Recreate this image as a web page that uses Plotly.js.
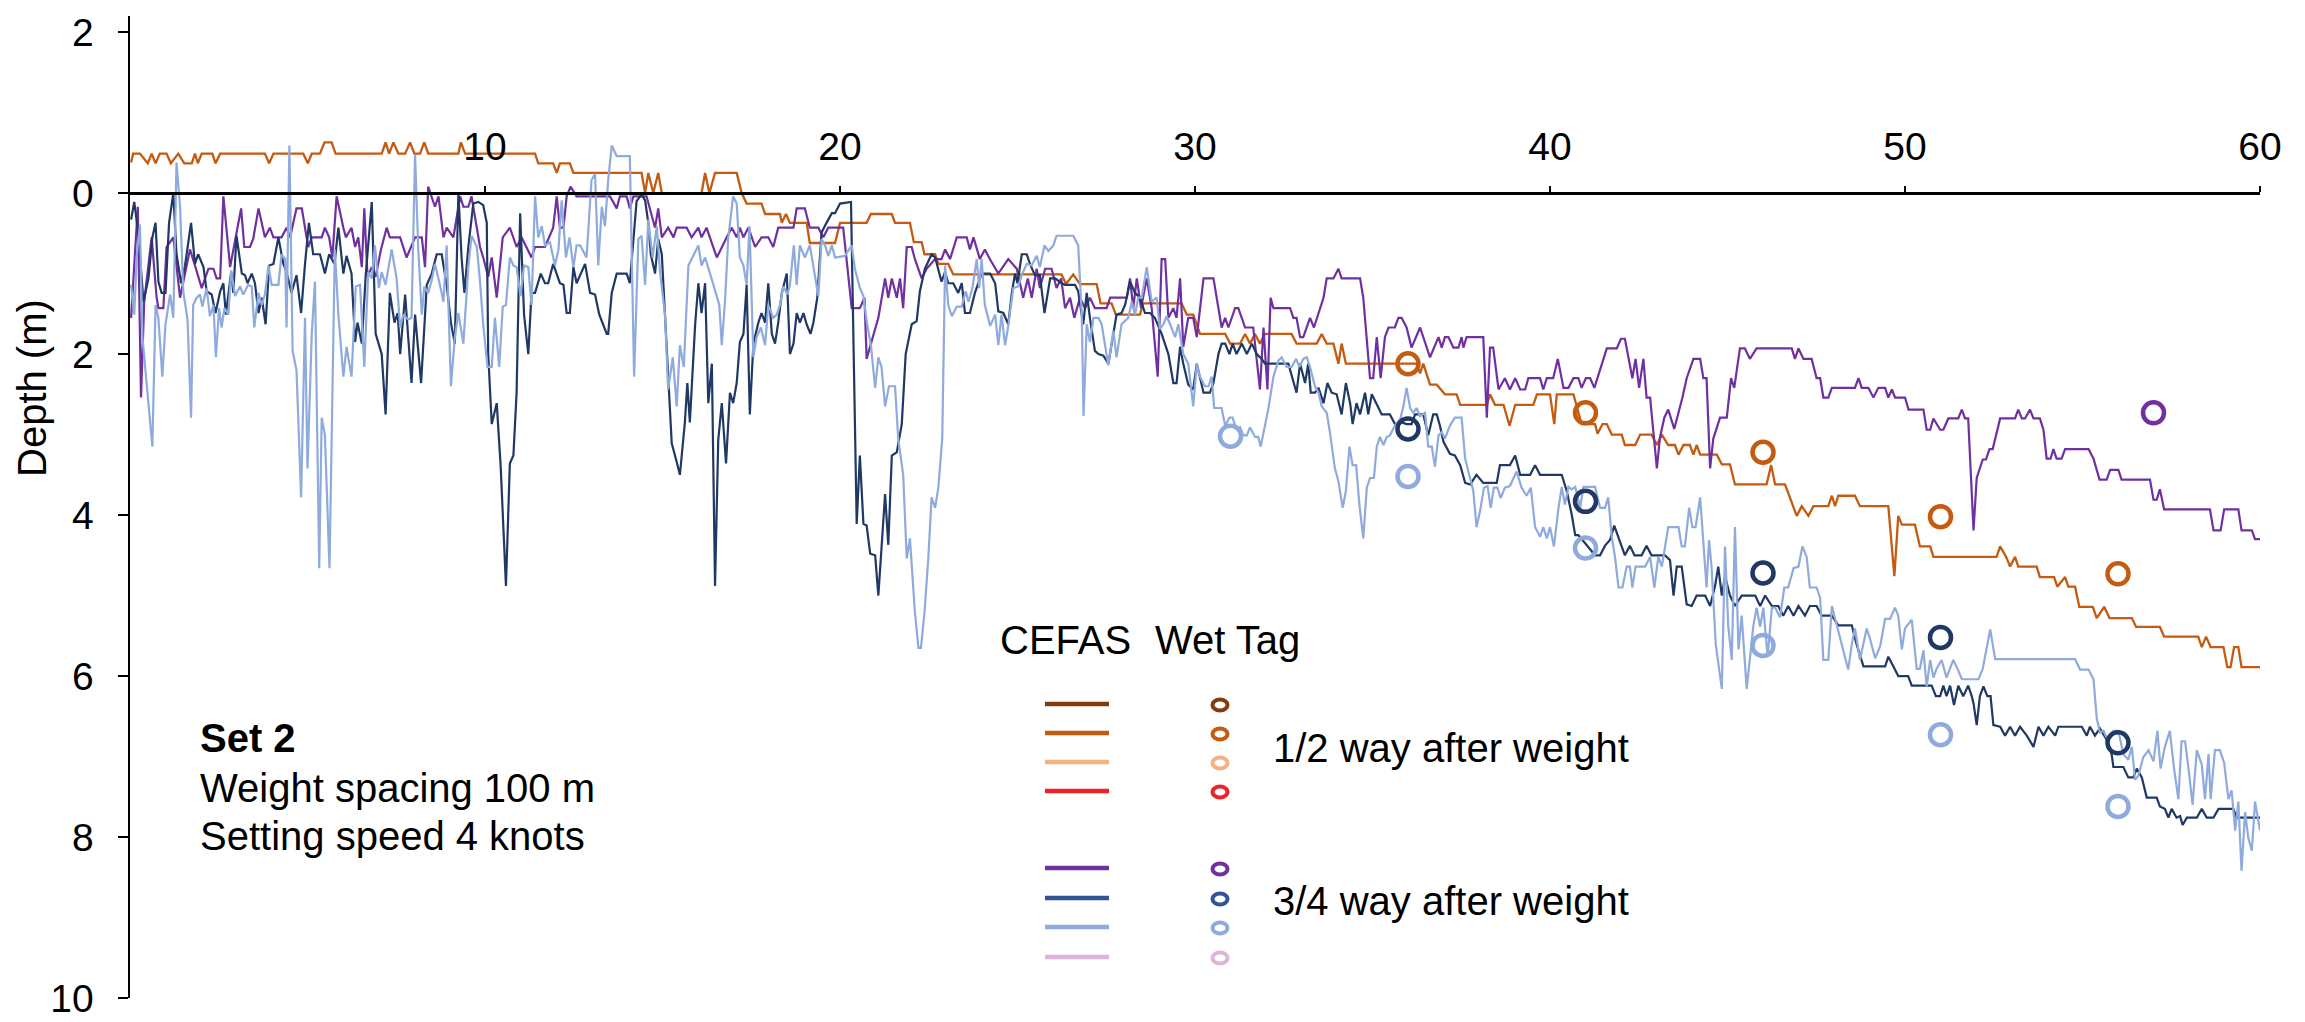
<!DOCTYPE html>
<html>
<head>
<meta charset="utf-8">
<script src="https://cdn.plot.ly/plotly-3.0.1.min.js"></script>
<style>html,body{margin:0;padding:0;background:#fff;}#chart{width:2305px;height:1022px;}</style>
</head>
<body>
<div id="chart"></div>
<script>
// ---------------- DATA (depth in m, x = distance/time along line) ----------------
const xTickVals = [10, 20, 30, 40, 50, 60];
const yTickVals = [-2, 0, 2, 4, 6, 8, 10];
const yTickText = ['2', '0', '2', '4', '6', '8', '10'];

// CEFAS 1/2 way after weight (orange)
const orangeX = [0.03,0.09,0.28,0.50,0.61,0.72,0.84,1.03,1.15,1.36,1.53,1.74,1.83,1.91,2.02,2.32,2.41,2.54,3.80,3.92,4.04,4.88,5.01,5.12,5.35,5.48,5.68,5.79,7.09,7.20,7.30,7.42,7.56,7.75,7.89,8.01,8.17,8.29,8.40,9.25,9.32,9.44,
11.41,11.50,11.92,12.02,12.11,12.39,12.49,14.41,14.51,14.60,14.74,14.88,14.98,16.10,16.20,16.32,16.48,17.09,17.23,17.37,17.79,17.89,18.31,18.36,18.48,18.59,19.06,19.15,19.86,
20.00,20.75,20.87,21.46,21.55,21.97,22.08,22.30,22.38,22.68,22.77,23.05,23.19,26.24,26.37,26.57,26.76,27.23,27.34,27.65,27.77,28.45,28.54,29.62,29.77,29.95,
30.14,30.85,30.99,31.27,31.41,31.55,31.69,31.83,31.97,32.72,32.86,33.43,33.57,33.71,33.90,34.04,34.13,34.25,36.24,36.34,36.43,36.62,36.81,37.04,37.37,37.47,38.22,38.31,38.45,38.69,38.86,39.02,39.53,39.63,
40.00,40.12,40.19,40.66,40.89,41.27,41.34,41.48,41.60,41.74,42.02,42.11,42.40,42.54,42.86,43.01,43.15,43.33,43.52,43.62,43.76,43.94,44.04,44.13,44.23,44.70,44.84,45.07,45.21,46.10,46.23,46.34,46.62,46.95,47.09,47.28,47.42,47.84,47.94,48.03,48.12,48.59,48.73,49.53,49.70,49.81,49.91,
50.28,50.42,50.71,50.80,52.58,52.68,52.85,52.96,53.10,53.19,53.71,53.80,54.20,54.29,54.51,54.60,54.79,54.91,55.29,55.40,55.61,55.76,56.39,56.51,57.18,57.30,58.26,58.36,58.48,58.61,58.97,59.08,59.17,59.27,59.39,59.48,60.00];
const orangeY = [-0.38,-0.49,-0.49,-0.37,-0.49,-0.37,-0.49,-0.49,-0.37,-0.49,-0.37,-0.37,-0.49,-0.37,-0.49,-0.49,-0.37,-0.49,-0.49,-0.37,-0.49,-0.49,-0.37,-0.49,-0.49,-0.63,-0.63,-0.49,-0.49,-0.63,-0.49,-0.63,-0.49,-0.49,-0.63,-0.49,-0.49,-0.63,-0.49,-0.49,-0.63,-0.49,
-0.49,-0.37,-0.37,-0.25,-0.37,-0.37,-0.25,-0.25,0.00,-0.25,0.00,-0.25,0.00,0.00,-0.25,0.00,-0.25,-0.25,0.00,0.13,0.13,0.26,0.26,0.37,0.26,0.37,0.37,0.62,0.62,
0.37,0.37,0.26,0.26,0.37,0.37,0.61,0.61,0.76,0.76,0.88,0.88,1.01,1.01,1.13,1.01,1.13,1.13,1.37,1.37,1.51,1.51,1.37,1.37,1.51,1.51,
1.75,1.75,1.87,1.87,1.75,1.87,1.75,1.87,1.75,1.75,1.87,1.87,1.75,1.87,1.87,2.12,1.87,2.12,2.12,2.24,2.12,2.38,2.38,2.50,2.50,2.63,2.63,2.50,2.63,2.63,2.89,2.63,2.63,2.50,
2.50,2.87,2.50,2.50,2.87,2.87,2.99,2.87,2.87,3.00,3.00,3.13,3.13,3.00,3.00,3.13,3.00,3.13,3.13,3.25,3.13,3.13,3.25,3.13,3.25,3.25,3.37,3.37,3.62,3.62,3.38,3.62,3.62,4.01,3.89,4.01,3.89,3.89,3.76,3.89,3.76,3.76,3.89,3.89,4.76,4.01,4.12,
4.12,4.39,4.39,4.52,4.52,4.39,4.52,4.64,4.52,4.64,4.64,4.77,4.77,4.89,4.77,4.89,4.89,5.14,5.14,5.28,5.14,5.28,5.28,5.39,5.39,5.51,5.51,5.64,5.51,5.64,5.64,5.89,5.89,5.64,5.64,5.89,5.89];

// CEFAS 3/4 way after weight (purple)
const purpleX = [0.03,0.22,0.31,0.40,0.61,0.75,0.80,0.94,1.03,1.22,1.41,1.69,1.83,2.02,2.21,2.35,2.44,2.54,2.63,2.82,3.13,3.22,3.38,3.47,3.62,3.80,3.94,4.04,4.27,4.41,4.51,4.69,4.84,5.02,5.12,5.40,5.49,5.61,5.70,5.82,6.01,6.08,6.24,6.34,6.43,6.53,6.60,6.69,6.81,6.92,7.07,7.23,7.32,7.61,7.79,8.03,8.22,8.31,8.40,8.59,8.69,8.83,8.92,9.11,9.30,9.39,9.53,9.62,9.86,9.95,
10.09,10.19,10.33,10.50,10.70,10.89,11.03,11.31,11.41,11.69,11.92,12.02,12.11,12.21,12.30,12.41,12.58,13.52,13.71,13.80,13.99,14.08,14.18,14.55,14.79,14.88,14.98,15.16,15.31,15.40,15.68,15.82,16.01,16.10,16.24,16.34,16.53,16.81,16.95,17.09,17.18,17.28,17.42,17.61,17.79,17.98,18.12,18.26,18.69,18.78,19.01,19.15,19.39,19.53,19.67,20.09,
20.33,20.56,20.69,20.75,21.08,21.27,21.36,21.46,21.60,21.69,21.78,21.88,22.02,22.11,22.30,22.44,22.68,22.86,22.96,23.10,23.29,23.57,23.66,23.76,23.94,24.08,24.22,24.46,24.74,24.98,25.16,25.29,25.40,25.54,25.63,25.78,25.96,26.10,26.23,26.34,26.48,26.60,26.76,26.90,27.04,27.18,27.51,27.61,28.08,28.17,28.26,28.36,28.48,28.64,28.78,28.95,29.06,29.16,29.25,29.39,29.48,29.58,29.67,29.81,29.95,30.05,
30.24,30.52,30.75,30.85,30.94,31.13,31.22,31.41,31.64,31.83,31.93,32.04,32.13,32.21,32.68,32.77,32.86,32.96,33.05,33.24,33.35,33.62,33.71,33.90,34.04,34.13,34.65,34.74,34.93,35.02,35.12,35.23,35.35,35.45,35.63,35.73,35.82,35.96,36.10,36.34,36.62,36.86,36.95,37.04,37.14,37.28,37.42,37.51,37.56,37.65,38.12,38.22,38.31,38.40,38.55,38.73,38.87,39.02,39.16,39.30,39.39,39.72,39.81,39.91,40.09,
40.22,40.38,40.52,40.66,40.80,40.89,41.01,41.13,41.25,41.50,41.60,41.88,42.00,42.11,42.21,42.32,42.41,42.51,42.63,42.72,42.82,43.01,43.10,43.22,43.33,43.50,43.73,43.85,44.04,44.23,44.32,44.41,44.51,44.60,44.79,44.98,45.10,45.19,45.35,45.49,45.63,45.82,46.81,46.90,47.00,47.14,47.37,47.51,47.61,47.70,47.84,47.94,48.59,48.69,48.78,48.97,49.11,49.25,49.44,49.53,49.63,49.72,50.00,50.10,
50.52,50.61,50.71,50.80,50.99,51.08,51.22,51.50,51.60,51.69,51.78,51.93,52.02,52.19,52.28,52.38,52.47,52.68,53.10,53.19,53.29,53.38,53.52,53.62,53.80,53.90,53.99,54.10,54.18,54.27,54.41,54.51,55.17,55.31,55.48,55.68,55.78,56.01,56.10,56.90,57.00,57.09,57.18,57.30,58.59,58.69,58.89,58.99,59.39,59.48,59.77,59.86,60.00];
const purpleY = [1.55,0.17,2.54,1.35,0.55,1.30,1.43,1.43,0.67,0.55,1.30,0.70,0.90,1.18,0.94,0.94,1.06,1.06,0.04,0.92,0.19,0.67,0.67,0.57,0.19,0.55,0.43,0.55,0.55,0.43,0.55,0.19,0.19,0.67,0.55,0.55,0.43,0.55,0.80,0.04,0.43,0.55,0.43,0.67,0.55,0.92,0.19,1.04,0.92,1.04,0.70,0.43,0.55,0.55,0.80,0.55,0.55,0.92,-0.08,0.17,0.04,0.55,0.43,0.55,0.04,0.17,0.17,0.04,0.67,0.80,
1.04,0.80,1.30,0.55,0.43,0.67,0.55,0.80,0.67,0.67,0.43,0.04,0.43,0.43,0.04,-0.08,0.04,0.04,0.19,0.04,0.04,0.19,0.04,0.04,0.43,0.19,0.55,0.43,0.55,0.43,0.43,0.55,0.43,0.55,0.43,0.55,0.80,0.55,0.43,0.55,0.43,0.55,0.43,0.67,0.55,0.55,0.67,0.43,0.43,0.19,0.19,0.43,0.43,0.55,0.43,0.43,
1.43,1.43,1.30,2.06,1.55,1.06,1.30,1.06,1.30,1.06,1.43,0.67,0.67,0.82,1.06,0.94,0.82,0.82,0.70,0.82,0.55,0.55,0.70,0.55,0.82,0.70,0.82,1.00,0.82,0.94,1.30,1.06,1.30,0.94,1.18,0.94,0.94,1.18,1.06,1.43,1.30,1.55,1.30,1.43,1.30,1.43,1.43,1.30,1.30,1.06,1.43,1.06,1.43,1.06,1.43,2.28,0.82,0.82,1.55,1.43,1.55,1.06,1.91,1.55,1.55,1.79,
1.06,1.06,1.67,1.55,1.67,1.43,1.43,1.67,1.67,2.44,1.67,2.44,1.30,1.43,1.43,1.55,1.55,1.79,1.79,1.55,1.67,1.30,1.06,1.06,0.94,1.06,1.06,1.30,2.30,2.30,1.79,2.30,1.79,1.67,1.67,1.55,1.55,1.67,1.92,1.67,2.04,1.79,1.92,1.79,1.79,1.92,1.92,1.79,1.92,1.79,1.79,2.79,1.92,1.92,2.44,2.30,2.44,2.30,2.44,2.44,2.30,2.30,2.44,2.30,2.30,
2.06,2.42,2.42,2.30,2.30,2.42,2.30,2.30,2.42,2.06,1.93,1.93,1.81,1.81,2.06,2.30,2.06,2.42,2.06,2.54,2.54,3.42,3.03,2.79,2.69,2.93,2.54,2.30,2.06,2.06,2.30,2.30,3.42,3.05,2.79,2.79,2.30,2.42,1.93,1.93,2.06,1.93,1.93,2.06,1.93,2.06,2.06,2.30,2.30,2.54,2.54,2.42,2.42,2.30,2.42,2.42,2.54,2.42,2.42,2.54,2.44,2.54,2.54,2.69,
2.69,2.94,2.94,2.80,2.94,2.94,2.80,2.80,2.69,2.80,2.80,4.19,3.54,3.31,3.31,3.18,3.18,2.80,2.80,2.69,2.80,2.80,2.69,2.80,2.80,2.94,3.30,3.30,3.18,3.30,3.30,3.18,3.18,3.30,3.56,3.56,3.44,3.44,3.56,3.56,3.81,3.81,3.68,3.93,3.93,4.19,4.19,3.93,3.93,4.19,4.19,4.30,4.30];

// CEFAS 3/4 way after weight (dark blue)
const navyX = [0.03,0.12,0.23,0.38,0.52,0.63,0.72,0.80,0.89,1.00,1.10,1.22,1.31,1.44,1.55,1.72,1.83,1.92,2.07,2.16,2.30,2.41,2.54,2.63,2.70,2.85,2.91,3.00,3.15,3.24,3.31,3.43,3.52,3.62,3.71,3.82,3.92,4.04,4.18,4.32,4.41,4.55,4.69,4.82,4.93,5.04,5.16,5.35,5.49,5.61,5.76,5.87,6.01,6.10,6.24,6.34,6.41,6.53,6.64,6.81,6.92,7.09,7.20,7.32,7.45,7.54,7.61,7.75,7.93,8.03,8.20,8.36,8.50,8.64,8.78,8.92,9.04,9.15,9.25,9.34,9.42,9.53,9.67,9.81,9.95,10.05,
10.09,10.19,10.33,10.44,10.59,10.70,10.80,10.89,10.99,11.10,11.22,11.31,11.41,11.57,11.69,11.78,11.92,12.11,12.21,12.30,12.39,12.49,12.58,12.82,12.96,13.10,13.22,13.43,13.47,13.57,13.71,13.99,14.08,14.20,14.27,14.41,14.51,14.60,14.67,14.79,14.88,14.98,15.12,15.26,15.40,15.49,15.63,15.70,15.77,15.92,16.01,16.10,16.20,16.29,16.39,16.48,16.57,16.67,16.79,16.90,16.99,17.09,17.18,17.28,17.37,17.46,17.56,17.70,17.79,17.89,17.98,18.08,18.17,18.26,18.36,18.50,18.59,18.69,18.78,18.87,18.97,19.06,19.17,19.25,19.36,19.48,19.62,19.77,19.86,20.00,
20.31,20.47,20.56,20.66,20.75,20.85,20.99,21.08,21.27,21.36,21.46,21.60,21.74,21.85,22.02,22.16,22.25,22.39,22.58,22.68,22.86,22.96,23.05,23.19,23.33,23.43,23.52,23.66,23.80,23.99,24.23,24.37,24.46,24.60,24.74,24.84,24.93,25.00,25.12,25.26,25.35,25.49,25.63,25.76,25.92,26.06,26.24,26.34,26.62,26.71,26.85,26.95,27.04,27.18,27.28,27.42,27.56,27.65,27.79,27.93,28.03,28.17,28.31,28.45,28.59,28.73,28.87,29.06,29.25,29.39,29.48,29.58,29.67,29.81,29.95,30.05,30.14,30.24,
30.42,30.52,30.66,30.75,30.85,30.97,31.06,31.17,31.32,31.46,31.60,31.74,31.88,31.97,32.63,32.77,32.86,32.96,33.10,33.19,33.26,33.38,33.48,33.62,33.73,33.85,33.99,34.13,34.25,34.37,34.44,34.55,34.65,34.79,34.88,34.98,35.12,35.26,35.49,35.63,35.82,35.96,36.10,36.20,36.43,36.57,36.71,36.81,36.90,37.00,37.18,37.32,37.47,37.61,37.75,37.93,38.12,38.50,38.59,38.87,39.02,39.16,39.44,39.58,39.72,40.33,
40.47,40.61,40.71,40.80,40.99,41.27,41.41,41.55,41.69,41.81,41.97,42.11,42.25,42.38,42.58,42.72,42.86,43.24,43.38,43.48,43.57,43.71,43.85,43.99,44.13,44.37,44.51,44.65,44.74,44.84,44.93,45.07,45.21,45.40,45.78,45.92,46.06,46.25,46.43,46.57,46.71,46.86,47.00,47.18,47.32,47.51,47.65,47.94,48.12,48.50,48.64,48.83,49.44,49.53,49.67,49.81,50.09,
50.19,50.75,50.87,50.99,51.08,51.17,51.27,51.38,51.50,51.64,51.78,51.88,51.93,52.02,52.11,52.21,52.32,52.41,52.49,52.68,52.82,52.96,53.10,53.24,53.43,53.62,53.76,53.90,54.04,54.23,54.32,54.98,55.12,55.21,55.35,55.49,55.68,55.82,55.87,56.15,56.29,56.43,56.53,56.67,56.81,57.09,57.18,57.32,57.42,57.51,57.65,57.75,57.82,57.94,58.22,58.36,58.50,58.69,58.83,59.25,59.34,60.00];
const navyY = [0.33,0.11,0.49,1.35,1.06,0.55,0.37,1.10,1.24,1.24,0.37,0.00,0.76,1.12,0.90,0.37,0.88,0.76,0.92,1.22,1.26,1.49,1.22,1.12,1.51,0.98,1.24,0.53,1.00,1.02,1.12,1.00,1.12,1.49,1.30,1.63,0.90,0.88,0.55,0.88,0.98,1.24,1.02,1.49,0.88,0.37,0.76,0.76,1.00,0.76,0.88,0.43,1.00,0.78,1.00,1.85,1.61,1.87,1.02,0.11,1.75,2.00,2.75,1.24,1.61,1.49,2.00,1.26,2.36,1.51,2.36,1.14,1.00,0.76,0.76,1.14,1.61,1.87,0.00,0.80,1.24,0.67,0.13,0.11,0.15,0.37,
2.00,2.87,2.61,3.38,4.88,3.36,3.26,2.48,0.25,1.51,2.00,1.24,1.24,1.00,1.12,1.12,0.88,1.12,1.14,1.49,1.49,0.92,1.12,0.88,1.24,1.26,1.51,1.75,1.75,1.24,1.00,1.00,1.12,0.45,0.10,0.02,0.09,0.37,0.76,1.00,0.57,0.76,1.87,3.11,3.34,3.50,2.85,2.36,2.85,1.63,1.12,1.49,1.12,2.61,2.12,4.88,3.07,2.61,3.36,2.48,2.61,2.36,1.85,1.75,1.14,2.75,1.87,1.61,1.49,1.61,1.12,1.75,1.87,1.61,1.24,1.00,2.00,1.87,1.49,1.61,1.49,1.63,1.75,1.61,1.30,0.49,0.37,0.25,0.25,0.13,
0.11,4.11,3.26,4.11,4.13,4.48,4.50,5.00,3.74,4.37,3.26,3.22,2.87,2.00,1.63,1.59,1.22,0.94,0.76,0.80,1.10,0.98,1.12,1.12,1.24,1.12,1.49,1.49,1.24,1.00,1.00,1.12,1.47,1.49,1.63,1.24,1.00,1.12,0.76,0.76,0.88,1.02,1.02,1.49,1.06,1.06,1.12,1.14,1.14,1.22,1.63,1.24,1.55,1.96,2.00,2.02,2.12,1.87,1.51,1.49,1.39,1.10,1.24,1.30,1.49,1.49,1.55,1.75,2.00,2.36,2.36,1.91,2.12,2.38,2.44,2.12,2.28,2.48,
2.48,2.36,2.00,1.87,1.87,2.00,1.87,2.00,1.87,2.00,1.87,2.00,2.06,2.12,2.12,2.36,2.48,2.12,2.36,2.12,2.48,2.48,2.42,2.61,2.36,2.48,2.50,2.75,2.36,2.61,2.87,2.61,2.75,2.48,2.75,2.50,2.63,2.75,2.75,2.87,2.85,2.87,2.87,2.75,2.75,3.01,2.75,2.75,2.89,3.09,3.24,3.26,3.38,3.60,3.62,3.50,3.60,3.60,3.38,3.38,3.26,3.50,3.50,3.38,3.50,3.50,
3.70,3.99,4.25,4.25,4.35,4.50,4.50,4.38,4.31,4.13,4.33,4.50,4.38,4.50,4.50,4.38,4.50,4.50,4.56,5.00,4.64,4.64,5.11,5.13,5.00,5.00,5.13,4.88,4.64,5.00,4.76,5.00,5.13,5.00,5.00,5.13,5.00,5.13,5.13,5.25,5.13,5.25,5.13,5.25,5.13,5.13,5.25,5.25,5.37,5.37,5.61,5.88,5.88,5.76,5.88,6.00,6.00,
6.12,6.12,6.25,6.25,6.12,6.25,6.12,6.36,6.12,6.25,6.12,6.25,6.34,6.61,6.25,6.13,6.25,6.25,6.61,6.63,6.74,6.63,6.74,6.63,6.74,6.88,6.63,6.74,6.63,6.74,6.63,6.63,6.74,6.63,6.74,6.65,6.79,6.97,7.13,7.13,7.26,7.26,7.15,7.26,7.51,7.51,7.62,7.65,7.76,7.65,7.76,7.74,7.85,7.76,7.76,7.65,7.76,7.76,7.65,7.65,7.76,7.76];

// CEFAS (light blue)
const lightX = [0.03,0.12,0.19,0.28,0.35,0.44,0.54,0.63,0.72,0.80,0.91,1.00,1.13,1.22,1.31,1.41,1.50,1.62,1.72,1.78,1.88,1.97,2.04,2.16,2.25,2.35,2.42,2.51,2.58,2.66,2.77,2.85,2.96,3.10,3.19,3.33,3.43,3.50,3.62,3.71,3.80,3.90,3.99,4.18,4.27,4.37,4.41,4.49,4.58,4.69,4.82,4.93,5.00,5.12,5.21,5.33,5.40,5.49,5.62,5.71,5.77,5.87,6.01,6.10,6.24,6.36,6.48,6.60,6.71,6.81,6.90,7.01,7.09,7.20,7.37,7.51,7.61,7.70,7.84,7.93,8.03,8.12,8.22,8.29,8.40,8.50,8.59,8.73,8.83,8.92,9.04,9.15,9.25,9.39,9.53,9.62,9.77,9.86,
9.95,10.07,10.19,10.28,10.40,10.50,10.59,10.70,10.80,10.89,11.00,11.10,11.22,11.31,11.41,11.50,11.60,11.69,11.83,11.97,12.07,12.16,12.28,12.38,12.49,12.58,12.68,12.86,13.00,13.10,13.19,13.29,13.38,13.47,13.57,13.71,14.08,14.20,14.32,14.41,14.51,14.60,14.72,14.84,14.93,15.07,15.16,15.29,15.40,15.49,15.60,15.73,15.87,16.01,16.10,16.20,16.34,16.48,16.60,16.67,16.76,16.85,16.99,17.09,17.18,17.28,17.37,17.45,17.56,17.65,17.77,17.89,17.98,18.12,18.22,18.31,18.40,18.52,18.59,18.70,18.78,18.87,19.01,19.15,19.25,19.39,19.48,19.58,19.67,19.77,19.86,20.14,
20.33,20.42,20.56,20.66,20.75,20.87,20.99,21.08,21.17,21.27,21.38,21.55,21.64,21.78,21.88,21.97,22.11,22.21,22.28,22.38,22.49,22.58,22.68,22.77,22.88,22.96,23.05,23.15,23.29,23.43,23.54,23.62,23.73,23.85,23.92,23.99,24.08,24.23,24.37,24.46,24.55,24.65,24.74,24.88,25.02,25.12,25.26,25.40,25.54,25.63,25.76,25.87,26.01,26.10,26.57,26.71,26.81,26.86,26.95,27.04,27.14,27.28,27.37,27.56,27.70,27.79,27.93,28.12,28.22,28.31,28.40,28.50,28.64,28.78,28.92,29.01,29.11,29.20,29.30,29.44,29.53,29.67,29.81,29.95,
30.05,30.14,30.28,30.38,30.47,30.54,30.75,30.85,30.97,31.06,31.16,31.27,31.36,31.46,31.55,31.69,31.78,31.85,31.97,32.07,32.21,32.35,32.44,32.58,32.72,32.85,32.94,33.05,33.15,33.24,33.38,33.48,33.57,33.71,33.80,33.94,34.04,34.16,34.25,34.35,34.44,34.54,34.63,34.74,34.84,34.93,35.04,35.12,35.21,35.31,35.40,35.49,35.63,35.78,35.87,35.96,36.06,36.15,36.24,36.34,36.48,36.57,36.67,36.76,36.86,36.95,37.04,37.18,37.32,37.51,37.61,37.75,37.84,37.93,38.03,38.14,38.24,38.33,38.42,38.52,38.61,38.73,38.87,39.06,39.20,39.34,39.46,39.58,39.72,39.81,39.91,40.00,40.11,
40.24,40.33,40.42,40.52,40.61,40.71,40.85,40.94,41.27,41.41,41.55,41.64,41.74,41.83,41.93,42.04,42.16,42.25,42.32,42.41,42.68,42.82,42.94,43.05,43.15,43.24,43.33,43.62,43.71,43.80,43.92,44.01,44.10,44.23,44.32,44.41,44.48,44.55,44.67,44.74,44.84,44.93,45.02,45.12,45.21,45.31,45.40,45.54,45.63,45.73,45.82,45.92,46.01,46.13,46.25,46.34,46.48,46.60,46.71,46.86,47.00,47.11,47.23,47.32,47.51,47.61,47.70,47.84,47.94,48.08,48.22,48.40,48.50,48.59,48.73,48.83,48.92,49.01,49.16,49.30,49.44,49.58,49.72,49.81,49.91,50.00,
50.19,50.33,50.42,50.52,50.61,50.71,50.80,50.89,51.03,51.17,51.36,51.50,51.60,52.07,52.19,52.40,52.54,54.79,54.93,55.17,55.31,55.40,55.49,55.59,55.73,55.87,56.01,56.15,56.29,56.39,56.48,56.57,56.71,56.86,57.00,57.11,57.20,57.32,57.46,57.58,57.70,57.79,57.89,58.01,58.10,58.22,58.36,58.45,58.55,58.61,58.73,58.87,58.99,59.11,59.20,59.30,59.39,59.48,59.58,59.67,59.77,59.86,60.00];
const lightY = [1.14,1.51,0.78,0.39,1.79,2.20,2.73,3.15,1.39,1.55,2.28,1.63,1.26,1.55,-0.38,0.17,1.22,1.57,2.79,1.39,1.30,1.26,1.41,1.18,1.53,1.39,2.04,1.43,1.67,1.43,1.51,0.96,1.28,1.16,1.26,1.14,1.16,1.67,1.24,1.39,1.26,0.90,1.14,1.14,0.76,0.82,1.67,-0.59,1.96,2.20,3.78,1.55,3.42,1.75,1.10,4.66,2.79,3.01,4.66,2.00,0.70,1.51,2.28,1.91,2.28,1.16,1.14,2.16,0.98,1.06,0.65,1.18,0.98,1.14,0.70,1.06,1.67,1.51,1.57,1.55,-0.48,0.70,1.51,1.16,1.24,1.08,0.88,1.14,1.35,0.65,2.40,1.79,1.49,1.87,0.92,0.53,0.67,1.10,
1.63,2.16,2.16,1.55,2.16,1.41,1.39,0.80,0.90,0.92,1.28,0.90,0.92,1.39,0.04,0.55,0.41,0.65,0.61,0.90,0.70,0.09,0.80,0.55,0.92,0.65,0.65,0.80,-0.16,-0.24,0.90,0.17,0.41,-0.16,-0.59,-0.46,-0.46,2.28,0.57,0.53,1.14,0.33,0.80,0.41,0.98,1.51,2.44,2.04,2.65,1.89,2.16,0.90,0.78,0.65,0.90,0.80,1.00,1.22,1.39,1.89,1.35,0.57,0.04,0.13,0.80,0.90,1.14,0.41,2.04,1.79,1.67,1.89,1.39,1.55,1.51,1.39,1.16,1.26,1.14,0.65,1.14,0.65,0.80,0.65,0.90,1.28,0.57,0.65,0.78,0.65,0.80,0.78,
0.65,0.94,1.18,1.28,1.59,1.89,2.42,2.04,2.16,2.65,2.40,2.40,3.05,3.50,4.54,4.29,5.21,5.65,5.65,5.21,4.52,3.78,3.91,3.66,3.05,0.90,1.39,1.53,1.41,1.41,1.22,1.35,1.18,0.82,1.18,0.82,1.39,1.65,1.51,1.89,1.51,1.89,1.65,1.18,1.16,1.02,0.88,0.90,0.78,0.92,0.65,0.72,0.65,0.53,0.53,0.65,1.51,2.77,1.63,1.85,1.55,1.55,1.63,2.14,1.71,2.04,1.63,1.55,1.35,1.51,1.30,1.30,0.92,1.35,1.30,1.69,1.63,1.53,1.63,1.79,1.63,2.00,2.12,2.65,
2.12,2.28,2.40,2.40,2.28,2.67,2.67,2.89,2.79,2.79,2.93,2.91,3.01,3.01,2.91,3.03,3.03,3.15,2.89,2.67,2.28,2.08,2.04,2.16,2.16,2.06,2.16,2.06,2.04,2.16,2.40,2.48,2.65,2.73,2.97,3.42,3.58,3.91,3.70,3.15,3.38,3.38,3.87,4.29,3.66,3.54,3.54,3.15,3.03,3.13,3.03,3.01,2.89,2.81,2.65,2.42,2.67,2.73,2.67,2.77,2.73,3.15,3.15,3.40,3.01,2.97,3.05,2.89,2.79,2.79,3.30,3.54,3.70,4.15,3.95,3.66,3.64,3.91,3.66,3.66,3.79,3.66,3.64,3.46,3.66,3.76,3.66,4.15,4.27,4.15,4.29,4.15,4.39,
3.91,3.65,3.87,3.65,3.68,3.65,3.91,3.65,3.65,3.91,3.91,3.78,4.27,4.52,4.90,4.90,4.64,4.64,4.90,4.64,4.64,4.52,4.90,4.52,4.64,4.39,4.15,4.15,4.39,4.39,3.91,4.15,4.15,3.78,4.39,4.90,4.31,4.64,5.61,5.86,6.16,4.39,5.37,5.80,4.15,5.67,5.25,6.16,5.80,5.37,5.15,5.39,5.15,5.76,5.15,5.15,5.27,4.90,4.90,4.66,4.64,4.39,4.52,4.90,4.90,5.03,5.80,5.80,5.13,5.37,5.63,5.92,5.61,5.41,5.80,5.61,5.41,5.53,5.78,5.63,5.29,5.29,5.15,5.25,5.67,5.41,
5.30,5.91,5.91,5.68,6.13,5.80,6.02,5.91,5.80,6.02,5.80,5.93,6.04,6.04,5.91,5.42,5.79,5.79,5.92,5.92,6.04,6.52,6.70,6.68,6.81,6.68,6.68,6.97,7.04,6.88,7.29,7.24,7.01,6.92,7.06,6.68,7.15,6.88,6.68,7.15,7.53,6.81,6.81,7.24,7.60,6.92,7.10,7.53,6.97,7.53,6.92,6.92,7.08,7.53,7.42,7.92,7.56,8.42,7.69,8.01,8.17,7.56,7.92];

// Wet Tag readings
const tagOrangeX = [36, 41, 46, 51, 56];
const tagOrangeY = [2.12, 2.73, 3.22, 4.02, 4.73];
const tagNavyX = [36, 41, 46, 51, 56];
const tagNavyY = [2.93, 3.83, 4.72, 5.52, 6.83];
const tagLightX = [31, 36, 41, 46, 51, 56];
const tagLightY = [3.02, 3.52, 4.41, 5.62, 6.73, 7.62];
const tagPurpleX = [57];
const tagPurpleY = [2.73];

// Legend key (colours of the key rows)
const legendHalf = ['#843C0C', '#C55A11', '#F4B183', '#EE2128'];
const legendThreeQ = ['#7030A0', '#2F5597', '#8FAADC', '#DDB5DA'];

// ---------------- LAYOUT HELPERS (pixels -> paper) ----------------
const W = 2305, H = 1022, ML = 130, MR = 45, MT = 16, MB = 24;
const PW = W - ML - MR, PH = H - MT - MB;
const px = v => (v - ML) / PW;
const py = v => (H - MB - v) / PH;
const FONT = 'Liberation Sans, Arial, sans-serif';
const yMin = -2.2, yMax = 10;

const lineTrace = (x, y, color, w) => ({
  x, y, type: 'scatter', mode: 'lines', hoverinfo: 'skip',
  line: {color, width: w}, showlegend: false
});
const tagTrace = (x, y, color) => ({
  x, y, type: 'scatter', mode: 'markers', hoverinfo: 'skip', showlegend: false,
  marker: {symbol: 'circle-open', size: 21, color, line: {color, width: 4.5}}
});

const data = [
  lineTrace(orangeX, orangeY, '#C55A11', 2.3),
  lineTrace(purpleX, purpleY, '#7030A0', 2.2),
  lineTrace(navyX, navyY, '#1F3864', 2.2),
  lineTrace(lightX, lightY, '#8FAADC', 2.2),
  tagTrace(tagOrangeX, tagOrangeY, '#C55A11'),
  tagTrace(tagNavyX, tagNavyY, '#1F3864'),
  tagTrace(tagLightX, tagLightY, '#8FAADC'),
  tagTrace(tagPurpleX, tagPurpleY, '#7030A0')
];

const shapes = [];
const rowsHalf = [704, 733, 762, 791];
const rowsThree = [868, 898, 927, 957];
function addKey(rows, colors) {
  rows.forEach((r, i) => {
    shapes.push({type: 'line', xref: 'paper', yref: 'paper', x0: px(1045), x1: px(1109), y0: py(r), y1: py(r),
      line: {color: colors[i], width: 4.5}});
    shapes.push({type: 'circle', xref: 'paper', yref: 'paper', xsizemode: 'pixel', ysizemode: 'pixel',
      xanchor: px(1220), yanchor: py(r + 1), x0: -7.5, x1: 7.5, y0: -5.5, y1: 5.5,
      line: {color: colors[i], width: 4}, fillcolor: 'rgba(255,255,255,0)'});
  });
}
addKey(rowsHalf, legendHalf);
addKey(rowsThree, legendThreeQ);

const ann = (text, x, y, extra) => Object.assign({
  text, xref: 'paper', yref: 'paper', x: px(x), y: py(y), xanchor: 'left', yanchor: 'middle',
  showarrow: false, font: {family: FONT, size: 40, color: '#000'}
}, extra || {});

const annotations = [
  ann('Depth (m)', 32, 388, {xanchor: 'center', textangle: -90}),
  ann('<b>Set 2</b>', 198, 738),
  ann('Weight spacing 100 m', 198, 788),
  ann('Setting speed 4 knots', 198, 836),
  ann('CEFAS', 998, 640),
  ann('Wet Tag', 1153, 640),
  ann('1/2 way after weight', 1271, 748),
  ann('3/4 way after weight', 1271, 901)
];

const layout = {
  width: W, height: H,
  margin: {l: ML, r: MR, t: MT, b: MB, pad: 0},
  paper_bgcolor: '#fff', plot_bgcolor: '#fff',
  showlegend: false,
  font: {family: FONT, color: '#000'},
  xaxis: {
    range: [0, 60], side: 'top', anchor: 'free', position: (yMax - 0) / (yMax - yMin),
    showline: true, linecolor: '#000', linewidth: 2.5,
    ticks: 'outside', ticklen: 6, tickwidth: 2.5, tickcolor: '#000',
    tickvals: xTickVals, ticktext: xTickVals.map(String),
    tickfont: {family: FONT, size: 39, color: '#000'},
    ticklabelstandoff: 10, ticklabeloverflow: 'allow',
    showgrid: false, zeroline: false, fixedrange: true
  },
  yaxis: {
    range: [yMax, yMin],
    showline: true, linecolor: '#000', linewidth: 2.5,
    ticks: 'outside', ticklen: 10, tickwidth: 2.5, tickcolor: '#000',
    tickvals: yTickVals, ticktext: yTickText,
    tickfont: {family: FONT, size: 39, color: '#000'},
    ticklabelstandoff: 16, ticklabeloverflow: 'allow',
    showgrid: false, zeroline: false, fixedrange: true
  },
  shapes, annotations
};

Plotly.newPlot('chart', data, layout, {staticPlot: true, displayModeBar: false});
</script>
</body>
</html>
